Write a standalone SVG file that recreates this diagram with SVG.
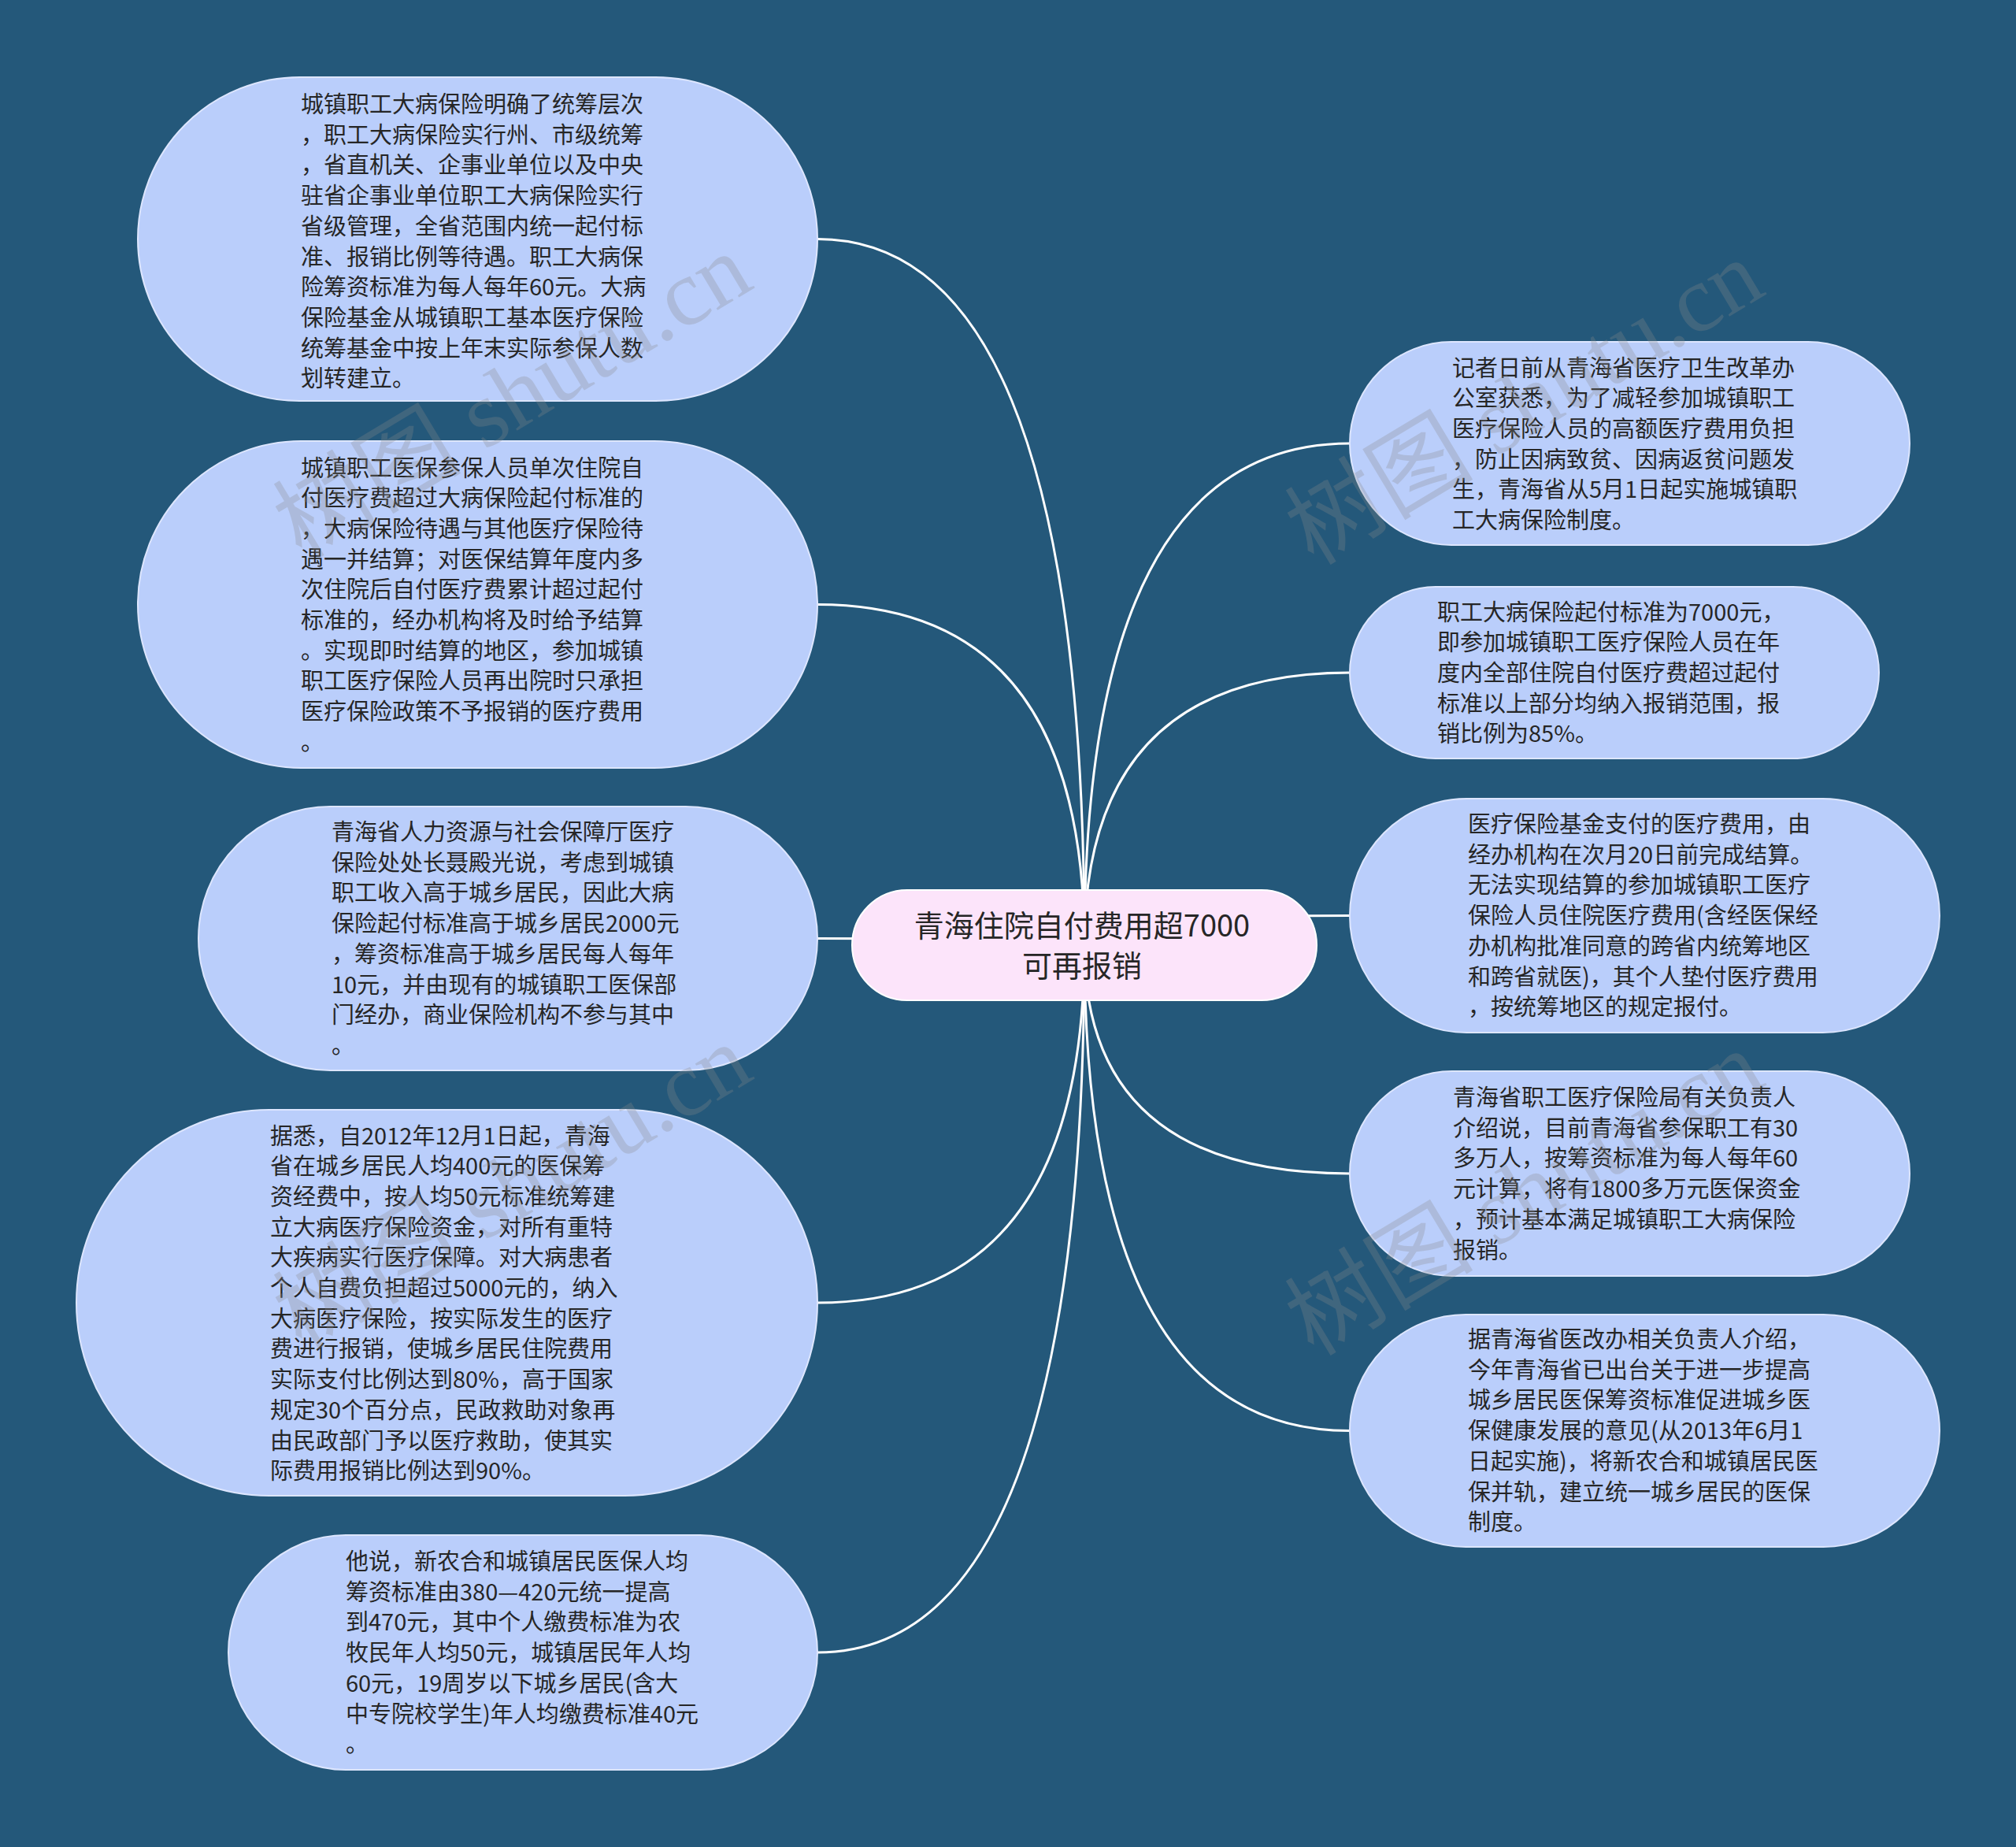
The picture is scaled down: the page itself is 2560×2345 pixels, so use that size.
<svg xmlns="http://www.w3.org/2000/svg" width="2560" height="2345" viewBox="0 0 2560 2345">
<style>
.bg{fill:#24587A}
.node{fill:#BACEFB;stroke:#DDE6FF;stroke-width:2}
.root{fill:#FCE4FA;stroke:#FFFFFF;stroke-width:2}
.t{font-family:"Noto Sans CJK SC","Liberation Sans",sans-serif;font-size:29px;fill:#262626}
.rt{font-family:"Noto Sans CJK SC","Liberation Sans",sans-serif;font-size:38px;fill:#262626;text-anchor:middle}
.link{fill:none;stroke:#FFFFFF;stroke-width:3}
.wm{font-family:"Liberation Serif","Noto Sans CJK SC",serif;font-size:120px;fill:#8A8A8A;opacity:0.28}
</style>
<rect class="bg" x="0" y="0" width="2560" height="2345"/>
<g id="connectors">
<path class="link" d="M1377 1200 Q1377 303.5 1038 303.5"/>
<path class="link" d="M1377 1200 Q1377 767.5 1038 767.5"/>
<path class="link" d="M1377 1200 Q1377 1191.5 1038 1191.5"/>
<path class="link" d="M1377 1200 Q1377 1654 1038 1654"/>
<path class="link" d="M1377 1200 Q1377 2098 1038 2098"/>
<path class="link" d="M1377 1200 Q1377 563 1714 563"/>
<path class="link" d="M1377 1200 Q1377 854 1714 854"/>
<path class="link" d="M1377 1200 Q1377 1162.5 1714 1162.5"/>
<path class="link" d="M1377 1200 Q1377 1490 1714 1490"/>
<path class="link" d="M1377 1200 Q1377 1816.5 1714 1816.5"/>
</g>
<g id="root">
<rect class="root" x="1082" y="1130" width="590" height="140" rx="70" ry="70"/>
<text class="rt" x="1374" y="1189">青海住院自付费用超7000</text>
<text class="rt" x="1374" y="1240">可再报销</text>
</g>
<g id="L1">
<rect class="node" x="175" y="98" width="863" height="411" rx="205.5" ry="205.5"/>
<text class="t">
<tspan x="382" y="143">城镇职工大病保险明确了统筹层次</tspan>
<tspan x="382" dy="38.7">，职工大病保险实行州、市级统筹</tspan>
<tspan x="382" dy="38.7">，省直机关、企事业单位以及中央</tspan>
<tspan x="382" dy="38.7">驻省企事业单位职工大病保险实行</tspan>
<tspan x="382" dy="38.7">省级管理，全省范围内统一起付标</tspan>
<tspan x="382" dy="38.7">准、报销比例等待遇。职工大病保</tspan>
<tspan x="382" dy="38.7">险筹资标准为每人每年60元。大病</tspan>
<tspan x="382" dy="38.7">保险基金从城镇职工基本医疗保险</tspan>
<tspan x="382" dy="38.7">统筹基金中按上年末实际参保人数</tspan>
<tspan x="382" dy="38.7">划转建立。</tspan>
</text>
</g>
<g id="L2">
<rect class="node" x="175" y="560" width="863" height="415" rx="207.5" ry="207.5"/>
<text class="t">
<tspan x="382" y="604.5">城镇职工医保参保人员单次住院自</tspan>
<tspan x="382" dy="38.7">付医疗费超过大病保险起付标准的</tspan>
<tspan x="382" dy="38.7">，大病保险待遇与其他医疗保险待</tspan>
<tspan x="382" dy="38.7">遇一并结算；对医保结算年度内多</tspan>
<tspan x="382" dy="38.7">次住院后自付医疗费累计超过起付</tspan>
<tspan x="382" dy="38.7">标准的，经办机构将及时给予结算</tspan>
<tspan x="382" dy="38.7">。实现即时结算的地区，参加城镇</tspan>
<tspan x="382" dy="38.7">职工医疗保险人员再出院时只承担</tspan>
<tspan x="382" dy="38.7">医疗保险政策不予报销的医疗费用</tspan>
<tspan x="382" dy="38.7">。</tspan>
</text>
</g>
<g id="L3">
<rect class="node" x="252" y="1024" width="786" height="335" rx="167.5" ry="167.5"/>
<text class="t">
<tspan x="421" y="1067">青海省人力资源与社会保障厅医疗</tspan>
<tspan x="421" dy="38.7">保险处处长聂殿光说，考虑到城镇</tspan>
<tspan x="421" dy="38.7">职工收入高于城乡居民，因此大病</tspan>
<tspan x="421" dy="38.7">保险起付标准高于城乡居民2000元</tspan>
<tspan x="421" dy="38.7">，筹资标准高于城乡居民每人每年</tspan>
<tspan x="421" dy="38.7">10元，并由现有的城镇职工医保部</tspan>
<tspan x="421" dy="38.7">门经办，商业保险机构不参与其中</tspan>
<tspan x="421" dy="38.7">。</tspan>
</text>
</g>
<g id="L4">
<rect class="node" x="97" y="1409" width="941" height="490" rx="245" ry="245"/>
<text class="t">
<tspan x="343" y="1452.5">据悉，自2012年12月1日起，青海</tspan>
<tspan x="343" dy="38.7">省在城乡居民人均400元的医保筹</tspan>
<tspan x="343" dy="38.7">资经费中，按人均50元标准统筹建</tspan>
<tspan x="343" dy="38.7">立大病医疗保险资金，对所有重特</tspan>
<tspan x="343" dy="38.7">大疾病实行医疗保障。对大病患者</tspan>
<tspan x="343" dy="38.7">个人自费负担超过5000元的，纳入</tspan>
<tspan x="343" dy="38.7">大病医疗保险，按实际发生的医疗</tspan>
<tspan x="343" dy="38.7">费进行报销，使城乡居民住院费用</tspan>
<tspan x="343" dy="38.7">实际支付比例达到80%，高于国家</tspan>
<tspan x="343" dy="38.7">规定30个百分点，民政救助对象再</tspan>
<tspan x="343" dy="38.7">由民政部门予以医疗救助，使其实</tspan>
<tspan x="343" dy="38.7">际费用报销比例达到90%。</tspan>
</text>
</g>
<g id="L5">
<rect class="node" x="290" y="1949" width="748" height="298" rx="149" ry="149"/>
<text class="t">
<tspan x="439" y="1993">他说，新农合和城镇居民医保人均</tspan>
<tspan x="439" dy="38.7">筹资标准由380—420元统一提高</tspan>
<tspan x="439" dy="38.7">到470元，其中个人缴费标准为农</tspan>
<tspan x="439" dy="38.7">牧民年人均50元，城镇居民年人均</tspan>
<tspan x="439" dy="38.7">60元，19周岁以下城乡居民(含大</tspan>
<tspan x="439" dy="38.7">中专院校学生)年人均缴费标准40元</tspan>
<tspan x="439" dy="38.7">。</tspan>
</text>
</g>
<g id="R1">
<rect class="node" x="1714" y="434" width="711" height="258" rx="129" ry="129"/>
<text class="t">
<tspan x="1844" y="477.5">记者日前从青海省医疗卫生改革办</tspan>
<tspan x="1844" dy="38.7">公室获悉，为了减轻参加城镇职工</tspan>
<tspan x="1844" dy="38.7">医疗保险人员的高额医疗费用负担</tspan>
<tspan x="1844" dy="38.7">，防止因病致贫、因病返贫问题发</tspan>
<tspan x="1844" dy="38.7">生，青海省从5月1日起实施城镇职</tspan>
<tspan x="1844" dy="38.7">工大病保险制度。</tspan>
</text>
</g>
<g id="R2">
<rect class="node" x="1714" y="745" width="672" height="218" rx="109" ry="109"/>
<text class="t">
<tspan x="1825" y="787.5">职工大病保险起付标准为7000元，</tspan>
<tspan x="1825" dy="38.7">即参加城镇职工医疗保险人员在年</tspan>
<tspan x="1825" dy="38.7">度内全部住院自付医疗费超过起付</tspan>
<tspan x="1825" dy="38.7">标准以上部分均纳入报销范围，报</tspan>
<tspan x="1825" dy="38.7">销比例为85%。</tspan>
</text>
</g>
<g id="R3">
<rect class="node" x="1714" y="1014" width="749" height="297" rx="148.5" ry="148.5"/>
<text class="t">
<tspan x="1864" y="1057">医疗保险基金支付的医疗费用，由</tspan>
<tspan x="1864" dy="38.7">经办机构在次月20日前完成结算。</tspan>
<tspan x="1864" dy="38.7">无法实现结算的参加城镇职工医疗</tspan>
<tspan x="1864" dy="38.7">保险人员住院医疗费用(含经医保经</tspan>
<tspan x="1864" dy="38.7">办机构批准同意的跨省内统筹地区</tspan>
<tspan x="1864" dy="38.7">和跨省就医)，其个人垫付医疗费用</tspan>
<tspan x="1864" dy="38.7">，按统筹地区的规定报付。</tspan>
</text>
</g>
<g id="R4">
<rect class="node" x="1714" y="1360" width="711" height="260" rx="130" ry="130"/>
<text class="t">
<tspan x="1845" y="1404">青海省职工医疗保险局有关负责人</tspan>
<tspan x="1845" dy="38.7">介绍说，目前青海省参保职工有30</tspan>
<tspan x="1845" dy="38.7">多万人，按筹资标准为每人每年60</tspan>
<tspan x="1845" dy="38.7">元计算，将有1800多万元医保资金</tspan>
<tspan x="1845" dy="38.7">，预计基本满足城镇职工大病保险</tspan>
<tspan x="1845" dy="38.7">报销。</tspan>
</text>
</g>
<g id="R5">
<rect class="node" x="1714" y="1669" width="749" height="295" rx="147.5" ry="147.5"/>
<text class="t">
<tspan x="1864" y="1711">据青海省医改办相关负责人介绍，</tspan>
<tspan x="1864" dy="38.7">今年青海省已出台关于进一步提高</tspan>
<tspan x="1864" dy="38.7">城乡居民医保筹资标准促进城乡医</tspan>
<tspan x="1864" dy="38.7">保健康发展的意见(从2013年6月1</tspan>
<tspan x="1864" dy="38.7">日起实施)，将新农合和城镇居民医</tspan>
<tspan x="1864" dy="38.7">保并轨，建立统一城乡居民的医保</tspan>
<tspan x="1864" dy="38.7">制度。</tspan>
</text>
</g>
<g id="watermarks">
<text class="wm" transform="translate(383 711) rotate(-31)">树图 shutu.cn</text>
<text class="wm" transform="translate(1668 719) rotate(-31)">树图 shutu.cn</text>
<text class="wm" transform="translate(383 1715) rotate(-31)">树图 shutu.cn</text>
<text class="wm" transform="translate(1668 1723) rotate(-31)">树图 shutu.cn</text>
</g>
</svg>
